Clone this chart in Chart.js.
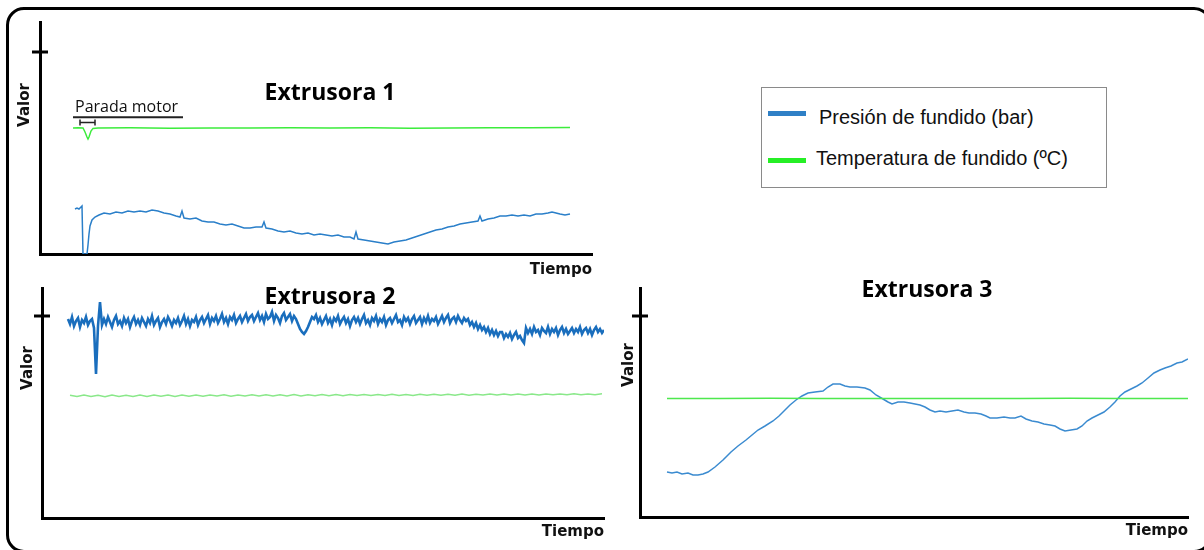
<!DOCTYPE html>
<html lang="es">
<head>
<meta charset="utf-8">
<title>Extrusoras</title>
<script src="https://cdn.jsdelivr.net/npm/chart.js@4.4.1/dist/chart.umd.min.js"></script>
<style>
  html, body { margin: 0; padding: 0; background: #fff; overflow: hidden; }
  #lienzo { position: relative; width: 1204px; height: 550px; overflow: hidden; }
  #marco {
    position: absolute; left: 6px; top: 7px; width: 1206px; height: 546px;
    border: 3px solid #000; border-radius: 18px; box-sizing: border-box;
  }
  canvas { position: absolute; }
  #leyenda {
    position: absolute; left: 761px; top: 87px; width: 346px; height: 101px;
    border: 1px solid #8a8a8a; box-sizing: border-box;
    font-family: "Liberation Sans", Arial, sans-serif; font-size: 20px; color: #111;
  }
  #leyenda .linea { position: absolute; left: 6px; width: 38px; height: 5px; }
  #leyenda .texto { position: absolute; line-height: 20px; white-space: nowrap; }
</style>
</head>
<body>
<div id="lienzo">
  <div id="marco"></div>
  <canvas id="ext1" width="600" height="279" style="left:0;top:0"></canvas>
  <canvas id="ext2" width="612" height="261" style="left:0;top:280px"></canvas>
  <canvas id="ext3" width="600" height="260" style="left:600px;top:280px"></canvas>
  <div id="leyenda">
    <div class="linea" style="top:23px;background:#2f80c6"></div>
    <div class="texto" style="left:57px;top:19px">Presión de fundido (bar)</div>
    <div class="linea" style="top:70px;background:#26ef26"></div>
    <div class="texto" style="left:54px;top:60px">Temperatura de fundido (ºC)</div>
  </div>
</div>
<script>
// Extrusora 1: presión (tiempo, valor) con la parada del motor al principio
const ext1PresionT = [35, 37, 39, 41, 42, 43, 47, 48, 49, 50, 52, 55, 59, 64, 70, 76, 82, 88, 94, 100,
  106, 112, 118, 124, 130, 136, 140, 142, 144, 150, 156, 162, 168, 174, 180, 186, 192, 198, 204, 210,
  216, 222, 224, 226, 232, 238, 244, 250, 256, 262, 268, 274, 280, 286, 292, 298, 304, 310, 314, 316,
  318, 324, 330, 336, 342, 348, 354, 360, 366, 372, 378, 384, 390, 396, 402, 408, 414, 420, 426, 432,
  438, 440, 442, 448, 454, 460, 466, 472, 478, 484, 490, 496, 502, 508, 512, 516, 520, 525, 530];
const ext1PresionV = [45, 46, 45, 47, 48, 0, 0, 9, 20, 28, 34, 37, 39, 41, 40, 42, 41, 43, 42, 43,
  42, 44, 43, 41, 40, 38, 37, 43, 36, 35, 36, 33, 32, 32, 30, 29, 30, 28, 26, 26,
  27, 27, 32, 26, 25, 23, 22, 23, 21, 20, 21, 19, 20, 19, 18, 19, 17, 17, 15, 22,
  15, 14, 13, 12, 11, 10, 12, 13, 14, 16, 18, 20, 22, 24, 25, 27, 28, 30, 31, 32,
  33, 38, 33, 35, 36, 38, 38, 39, 38, 39, 38, 40, 40, 41, 42, 41, 40, 39, 40];
const ext1TempT = [33, 38, 43, 45, 47, 48, 49, 51, 53, 58, 90, 130, 170, 210, 250, 290, 330, 370, 410, 450, 490, 530];
const ext1TempV = [126, 126.3, 126, 122, 117, 115, 117, 123, 125.6, 126, 126.2, 125.8, 126.1, 125.9, 126.3,
  125.9, 126.2, 125.8, 126.1, 126.3, 126.2, 126.4];
const paradaMotor = [40, 55];

// Extrusora 2: muestreo regular (inicio y paso en unidades de tiempo)
const ext2PresionInicio = 26, ext2PresionPaso = 2;
const ext2PresionV = [
  199, 194, 201, 192, 197, 200, 191, 198, 195, 201, 193, 197, 199, 190, 144, 192, 216,
  193, 199, 194, 201, 196, 191, 198, 202, 194, 197, 192, 200, 195, 199, 191, 197, 201, 194, 198, 193,
  200, 196, 192, 199, 195, 202, 193, 197, 200, 191, 196, 199, 194, 201, 197, 192, 198, 195, 200, 193,
  197, 202, 194, 199, 192, 198, 196, 201, 193, 198,
  201, 195, 199, 203, 194, 200, 197, 202, 195, 199, 204, 196, 200, 194, 201, 198, 203, 195, 199, 202,
  196, 200, 204, 197, 201,
  203, 197, 201, 205, 198, 202, 196, 204, 199, 201, 206, 197, 203, 200, 195, 202, 205, 198, 201, 204,
  197, 202, 199,
  194, 189, 186, 184, 187, 191, 196,
  201, 199, 203, 196, 200, 194, 198, 202, 195, 199, 193, 200, 197, 202, 194, 198, 201, 195, 199, 192,
  198, 201, 196, 200, 194, 199, 203, 195, 198, 193, 200, 197, 202, 194, 199, 196, 201, 193, 198, 200,
  195, 199, 203, 196, 198, 193, 201, 197, 200, 194, 199, 202, 195, 198, 201, 194, 200, 196, 202, 195,
  199, 197, 201, 194, 198,
  202, 196, 200, 203, 195, 199, 201, 196, 202, 198, 195, 200, 197,
  199, 193, 196, 191, 195, 189, 193, 188, 191, 186, 190, 184, 188, 183, 187, 182, 186,
  186, 180, 184, 181, 185, 179, 183, 186, 180, 182, 178, 175,
  190, 185, 189, 184, 191, 186, 188, 183, 190, 187, 185, 191, 184, 189, 186, 190, 183, 188, 191, 185,
  189, 184, 187, 190, 185, 189, 186, 191, 184, 188, 190, 185, 189, 183, 188, 191, 186, 189, 185, 188];
const ext2TempInicio = 28, ext2TempPaso = 7;
const ext2TempV = [122.8, 121.4, 122.9, 121.5, 122.7, 121.3, 122.9, 121.6, 122.8, 121.5,
  122.9, 121.6, 123.0, 121.7, 122.9, 121.6, 123.1, 121.8, 123.0, 121.7,
  123.1, 121.9, 123.2, 121.8, 123.1, 121.9, 123.3, 122.0, 123.2, 122.0,
  123.3, 122.1, 123.4, 122.1, 123.3, 122.2, 123.5, 122.2, 123.4, 122.3,
  123.5, 122.4, 123.6, 122.4, 123.5, 122.5, 123.7, 122.5, 123.6, 122.6,
  123.7, 122.7, 123.8, 122.7, 123.7, 122.8, 123.9, 122.8, 123.8, 122.9,
  123.9, 123.0, 124.0, 123.0, 123.9, 123.1, 124.1, 123.1, 124.0, 123.2,
  124.1, 123.2, 124.2, 123.3, 124.1, 123.3, 124.2];

// Extrusora 3
const ext3PresionT = [27, 32, 37, 42, 48, 53, 58, 63, 68, 75, 83, 91, 98, 106, 112, 118, 125, 133, 139, 145,
  150, 156, 162, 168, 175, 183, 188, 193, 200, 205, 210, 217, 225, 230, 236, 243, 248, 252, 258, 264,
  270, 275, 280, 285, 290, 295, 300, 306, 312, 318, 324, 329, 335, 341, 346, 350, 357, 364, 370, 375,
  381, 386, 392, 398, 404, 410, 415, 420, 425, 431, 437, 442, 447, 452, 458, 464, 470, 475, 480, 485,
  491, 497, 502, 508, 514, 520, 525, 531, 537, 542, 548];
const ext3PresionV = [45, 44, 45, 43, 44, 42, 42, 43, 45, 50, 57, 65, 71, 77, 82, 87, 91, 96, 101, 107,
  112, 117, 121, 124, 125, 126, 130, 133, 133, 131, 130, 130, 129, 127, 122, 118, 115, 113, 115, 115,
  114, 113, 112, 110, 107, 105, 106, 105, 106, 107, 105, 104, 104, 103, 101, 99, 99, 100, 99, 99,
  101, 98, 96, 95, 93, 92, 91, 88, 86, 87, 88, 91, 96, 99, 102, 105, 110, 115, 121, 125,
  128, 131, 134, 139, 144, 147, 149, 151, 154, 155, 158];
const ext3TempT = [27, 80, 130, 180, 230, 280, 330, 380, 430, 480, 548];
const ext3TempV = [118.6, 118.4, 118.7, 118.5, 118.6, 118.4, 118.6, 118.5, 118.7, 118.5, 118.6];

// marca única del eje Y de cada panel
const marcaValor = [202, 202, 201];

const azul1 = '#2a7fc9', azul2 = '#1a6ebd', azul3 = '#3b8bd0';
const verde1 = '#3cec3c', verde2 = '#8ae88a', verde3 = '#4ee84e';

const pares = (ts, vs) => ts.map((t, i) => ({ x: t, y: vs[i] }));
const regular = (inicio, paso, vs) => vs.map((v, i) => ({ x: inicio + i * paso, y: v }));

// titulo, rotulo "Valor", marca del eje y anotacion de la parada
const panelDecor = {
  id: 'panelDecor',
  afterDraw(chart, args, opts) {
    const { ctx, chartArea: a, scales: { x, y } } = chart;
    ctx.save();
    ctx.fillStyle = '#000';
    ctx.textAlign = 'center';
    ctx.textBaseline = 'middle';
    ctx.font = 'bold 23px "Open Sans"';
    ctx.fillText(opts.title, a.left + opts.titleDx, a.top + opts.titleDy);

    ctx.save();
    ctx.translate(a.left - opts.valorDx, a.top + opts.valorDy);
    ctx.rotate(-Math.PI / 2);
    ctx.font = 'bold 15px "DejaVu Sans"';
    ctx.fillStyle = '#111';
    ctx.fillText('Valor', 0, 0);
    ctx.restore();

    const ty = y.getPixelForValue(opts.marca);
    ctx.strokeStyle = '#000';
    ctx.lineWidth = 3;
    ctx.beginPath();
    ctx.moveTo(a.left - 8, ty);
    ctx.lineTo(a.left + 8, ty);
    ctx.stroke();

    if (opts.parada) {
      const x0 = x.getPixelForValue(opts.parada[0]);
      const x1 = x.getPixelForValue(opts.parada[1]);
      const yb = a.top + 100.5;
      ctx.strokeStyle = '#222';
      ctx.lineWidth = 1.5;
      ctx.beginPath();
      ctx.moveTo(x0, yb); ctx.lineTo(x1, yb);
      ctx.moveTo(x0, yb - 3); ctx.lineTo(x0, yb + 3);
      ctx.moveTo(x1, yb - 3); ctx.lineTo(x1, yb + 3);
      ctx.stroke();
      ctx.lineWidth = 2;
      ctx.beginPath();
      ctx.moveTo(x0 - 7, a.top + 95.3);
      ctx.lineTo(x0 + 103, a.top + 95.3);
      ctx.stroke();
      ctx.textAlign = 'left';
      ctx.textBaseline = 'alphabetic';
      ctx.font = '16px "Open Sans"';
      ctx.fillStyle = '#111';
      ctx.fillText('Parada motor', x0 - 5, a.top + 90);
    }
    ctx.restore();
  }
};

function panel(id, ancho, alto, padding, datasets, decor, tiempoPad) {
  return new Chart(document.getElementById(id), {
    type: 'line',
    data: { datasets },
    options: {
      responsive: false,
      animation: false,
      devicePixelRatio: 1,
      layout: { padding },
      elements: { point: { radius: 0 }, line: { tension: 0 } },
      scales: {
        x: {
          type: 'linear', min: 0, max: ancho,
          grid: { display: false, drawTicks: false },
          ticks: { display: false },
          border: { color: '#000', width: 3 },
          title: {
            display: true, text: 'Tiempo', align: 'end', color: '#111',
            font: { family: '"DejaVu Sans"', weight: 'bold', size: 15 },
            padding: { top: tiempoPad, bottom: 0 }
          }
        },
        y: {
          min: 0, max: alto,
          grid: { display: false, drawTicks: false },
          ticks: { display: false },
          border: { color: '#000', width: 3 }
        }
      },
      plugins: {
        legend: { display: false },
        tooltip: { enabled: false },
        panelDecor: decor
      }
    },
    plugins: [panelDecor]
  });
}

panel('ext1', 552, 232, { left: 40, top: 22, right: 8, bottom: 0 }, [
  { data: pares(ext1TempT, ext1TempV), borderColor: verde1, borderWidth: 1.5 },
  { data: pares(ext1PresionT, ext1PresionV), borderColor: azul1, borderWidth: 1.5 }
], { title: 'Extrusora 1', titleDx: 290, titleDy: 71, valorDx: 15, valorDy: 83, marca: marcaValor[0], parada: paradaMotor }, 7);

panel('ext2', 562, 230, { left: 42, top: 8, right: 8, bottom: 0 }, [
  { data: regular(ext2TempInicio, ext2TempPaso, ext2TempV), borderColor: verde2, borderWidth: 1.5 },
  { data: regular(ext2PresionInicio, ext2PresionPaso, ext2PresionV), borderColor: azul2, borderWidth: 2.6 }
], { title: 'Extrusora 2', titleDx: 288, titleDy: 9, valorDx: 14, valorDy: 80, marca: marcaValor[1] }, 5);

panel('ext3', 548, 229, { left: 40, top: 8, right: 12, bottom: 0 }, [
  { data: pares(ext3TempT, ext3TempV), borderColor: verde3, borderWidth: 1.5 },
  { data: pares(ext3PresionT, ext3PresionV), borderColor: azul3, borderWidth: 1.5 }
], { title: 'Extrusora 3', titleDx: 287, titleDy: 2, valorDx: 11, valorDy: 77, marca: marcaValor[2] }, 5);
</script>
</body>
</html>
